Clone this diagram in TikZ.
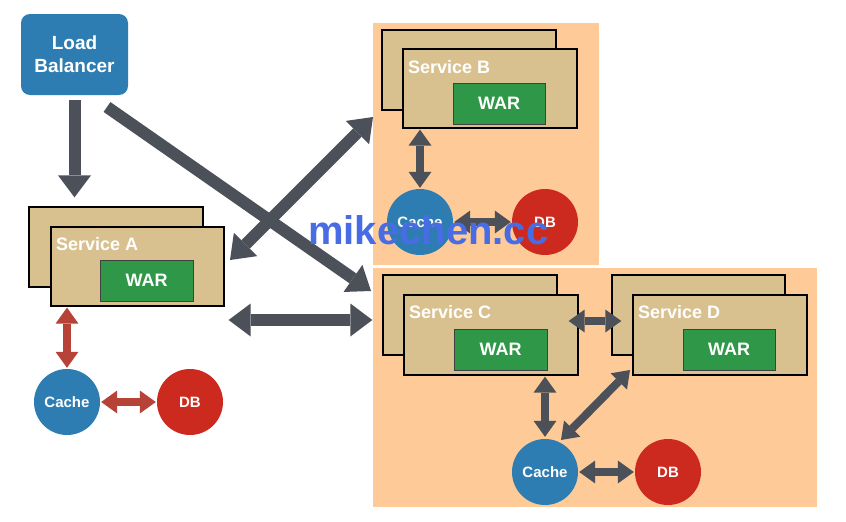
\documentclass[tikz,border=0pt]{standalone}
\usepackage{fontspec}
\setmainfont{Liberation Sans}
\usetikzlibrary{arrows.meta}
\definecolor{lbblue}{RGB}{46,125,178}
\definecolor{tanbox}{RGB}{216,193,143}
\definecolor{warg}{RGB}{46,152,72}
\definecolor{dbred}{RGB}{204,42,30}
\definecolor{arrg}{RGB}{76,80,88}
\definecolor{arrr}{RGB}{182,66,56}
\definecolor{zone}{RGB}{253,202,152}
\definecolor{wm}{RGB}{72,108,228}
\tikzset{
  svcbox/.style={draw=black, line width=1.3pt, fill=tanbox, inner sep=0pt},
  svclabel/.style={anchor=base west, text=white, inner sep=0pt, font=\bfseries\fontsize{18}{18}\selectfont},
  warbox/.style={draw=black!75, line width=0.9pt, fill=warg, inner sep=0pt, text=white, font=\bfseries\fontsize{18}{18}\selectfont},
  cachenode/.style={circle, fill=lbblue, minimum size=66pt, inner sep=0pt, text=white, font=\bfseries\fontsize{15}{15}\selectfont},
  dbnode/.style={circle, fill=dbred, minimum size=66pt, inner sep=0pt, text=white, font=\bfseries\fontsize{15}{15}\selectfont},
  bigarrow/.style={draw=arrg, line width=12pt, >={Triangle[width=33pt,length=22pt,line width=0pt]}},
  smallarrow/.style={draw=arrg, line width=8pt, >={Triangle[width=23pt,length=16pt,line width=0pt]}},
  redarrow/.style={smallarrow, draw=arrr},
}
\begin{document}
\begin{tikzpicture}[x=1pt,y=-1pt]
\useasboundingbox[fill=white] (0,0) rectangle (846,522);
% zones
\fill[zone] (373,23) rectangle (599,265);
\fill[zone] (373,268) rectangle (817,507);
% load balancer
\node[fill=lbblue, rounded corners=9pt, minimum width=107pt, minimum height=81pt, inner sep=0pt,
  text=white, align=center, font=\bfseries\fontsize{19}{23}\selectfont] (lb) at (74.5,54.5) {Load\\Balancer};
% service A
\node[svcbox, minimum width=174pt, minimum height=80pt] (Aback) at (116,247) {};
\node[svcbox, minimum width=173pt, minimum height=79pt] (A) at (137.5,266.5) {};
\node[svclabel] (Alab) at (56,250) {Service A};
\node[warbox, minimum width=93pt, minimum height=41pt] (Awar) at (146.5,280.5) {WAR};
\node[cachenode] (Acache) at (67,402) {Cache};
\node[dbnode] (Adb) at (190,402) {DB};
% service B
\node[svcbox, minimum width=174pt, minimum height=80pt] (Bback) at (469,70) {};
\node[svcbox, minimum width=174pt, minimum height=79pt] (B) at (490,88.5) {};
\node[svclabel] (Blab) at (408,73) {Service B};
\node[warbox, minimum width=92pt, minimum height=41pt] (Bwar) at (499,103.5) {WAR};
\node[cachenode] (Bcache) at (420,222) {Cache};
\node[dbnode] (Bdb) at (545,222) {DB};
% service C
\node[svcbox, minimum width=174pt, minimum height=80pt] (Cback) at (470,315) {};
\node[svcbox, minimum width=174pt, minimum height=80pt] (C) at (491,335) {};
\node[svclabel] (Clab) at (409,318) {Service C};
\node[warbox, minimum width=93pt, minimum height=41pt] (Cwar) at (500.5,349.5) {WAR};
% service D
\node[svcbox, minimum width=173pt, minimum height=80pt] (Dback) at (698.5,315) {};
\node[svcbox, minimum width=174pt, minimum height=80pt] (D) at (720,335) {};
\node[svclabel] (Dlab) at (638,318) {Service D};
\node[warbox, minimum width=92pt, minimum height=41pt] (Dwar) at (729,349.5) {WAR};
\node[cachenode] (Ccache) at (545,472) {Cache};
\node[dbnode] (Cdb) at (668,472) {DB};
% arrow end points
\coordinate (lbdiag) at (107,107);
\coordinate (ctip) at (371,291);
\coordinate (atipab) at (230,260);
\coordinate (btip) at (373,117);
\coordinate (dtip) at (630,370);
\coordinate (cctip) at (561,440);
% load balancer arrows
\draw[bigarrow,->] ([yshift=-5pt]lb.south) -- ([yshift=9pt]lb.south |- Aback.north);
\draw[bigarrow,->] (lbdiag) -- (ctip);
\draw[bigarrow,<->] (atipab) -- (btip);
\draw[bigarrow,<->] ([xshift=4pt]A.east |- 0,320) -- ([xshift=-10pt]Cback.west |- 0,320);
% service A local
\draw[redarrow,<->] ([yshift=-1pt]A.south -| Acache.north) -- ([yshift=1pt]Acache.north);
\draw[redarrow,<->] ([xshift=1pt]Acache.east) -- ([xshift=-1pt]Adb.west);
% service B local
\draw[smallarrow,<->] ([yshift=-1pt]B.south -| Bcache.north) -- ([yshift=1pt]Bcache.north);
\draw[smallarrow,<->] ([xshift=1pt]Bcache.east) -- ([xshift=-1pt]Bdb.west);
% services C, D local
\draw[smallarrow,<->] ([xshift=-10pt]C.east |- 0,321) -- ([xshift=-11pt]D.west |- 0,321);
\draw[smallarrow,<->] ([yshift=-1pt]C.south -| Ccache.north) -- ([yshift=2pt]Ccache.north);
\draw[smallarrow,<->] (dtip) -- (cctip);
\draw[smallarrow,<->] ([xshift=1pt]Ccache.east) -- ([xshift=-1pt]Cdb.west);
% watermark
\node[anchor=base west, inner sep=0pt, text=wm, font=\bfseries\fontsize{40}{40}\selectfont] (wmark) at (308,244) {mikechen.cc};
\end{tikzpicture}
\end{document}
